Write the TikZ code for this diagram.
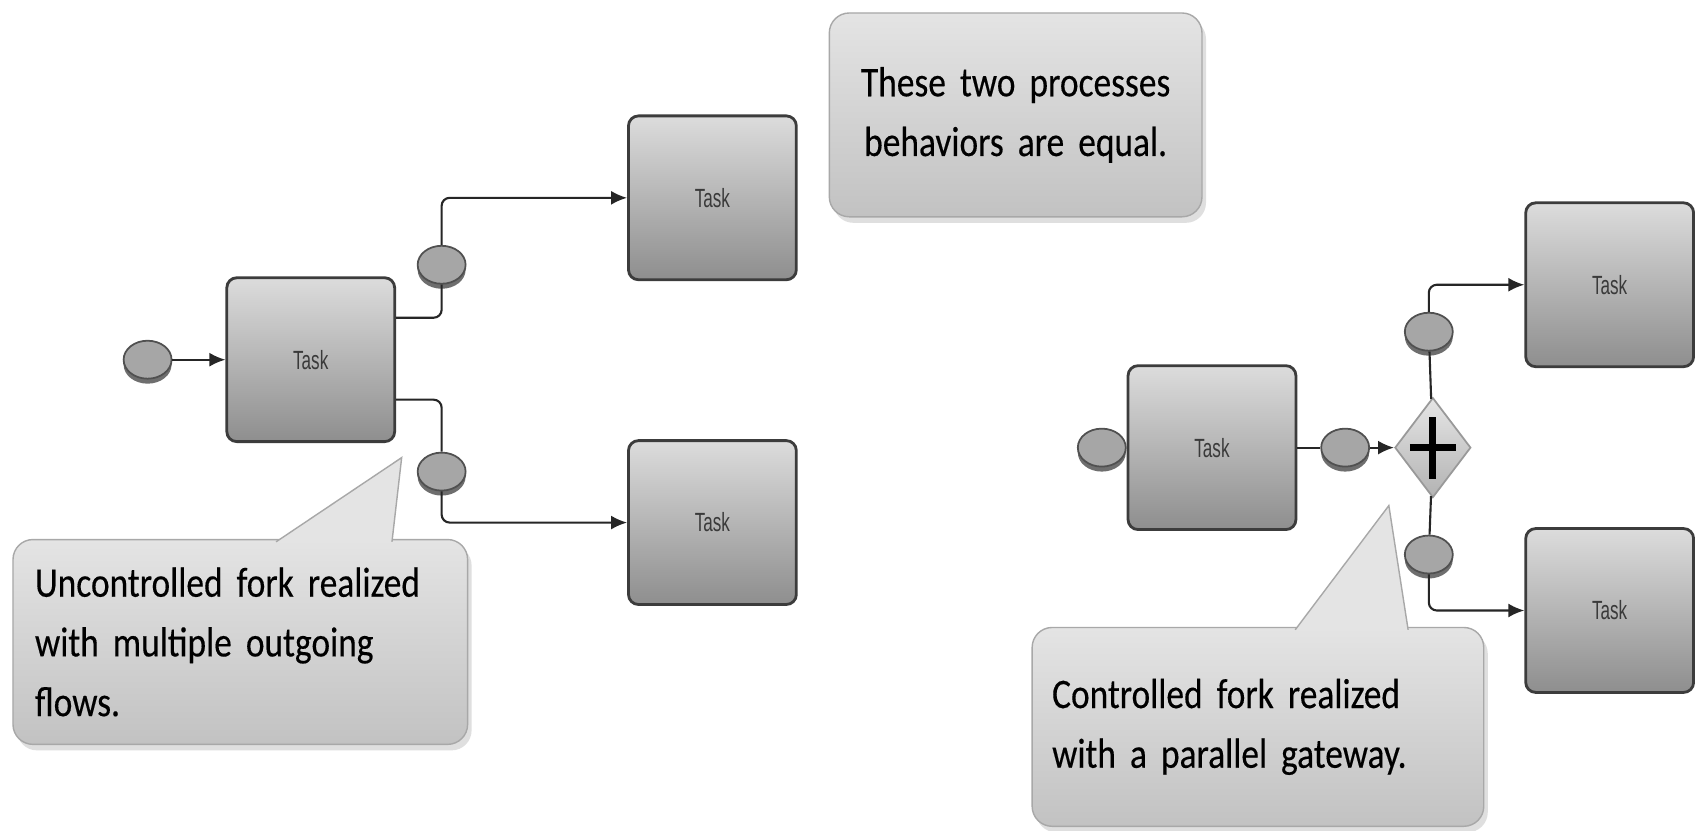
\documentclass[tikz,border=0pt]{standalone}
\usepackage{fontspec}
\usetikzlibrary{arrows.meta,positioning,shapes.geometric,shadows}

\newfontfamily\notefont[FakeStretch=0.84,WordSpace=0.5,FakeBold=0.3]{Carlito}
\newfontfamily\taskfont[FakeStretch=0.65]{Liberation Sans}

\definecolor{tasktop}{HTML}{DCDCDC}
\definecolor{taskbot}{HTML}{8E8E8E}
\definecolor{taskline}{HTML}{3C3C3C}
\definecolor{taskfg}{HTML}{3A3A3A}
\definecolor{notetop}{HTML}{E4E4E4}
\definecolor{notebot}{HTML}{C2C2C2}
\definecolor{noteline}{HTML}{A8A8A8}
\definecolor{evfill}{HTML}{A6A6A6}
\definecolor{evline}{HTML}{505050}
\definecolor{evrim}{HTML}{6E6E6E}

\begin{document}
\begin{tikzpicture}[
        x=0.1mm, y=-0.1mm,
        >={Latex[length=1.6mm,width=1.4mm]},
        task/.style={
            draw=taskline,
            line width=0.8pt,
            rounded corners=1mm,
            top color=tasktop,
            bottom color=taskbot,
            minimum width=16.8mm,
            minimum height=16.4mm,
            text=taskfg,
            font=\taskfont\fontsize{7.5}{9}\selectfont
        },
        evt/.style={
            ellipse,
            draw=evline,
            line width=0.5pt,
            fill=evfill,
            inner sep=0pt,
            minimum width=4.8mm,
            minimum height=3.8mm,
            drop shadow={shadow xshift=0pt, shadow yshift=-0.5mm, fill=evrim, opacity=1}
        },
        gate/.style={
            diamond,
            draw=gray!80,
            line width=0.5pt,
            inner sep=0pt,
            minimum width=7.6mm,
            minimum height=10mm,
            top color=gray!20,
            bottom color=gray!60,
            path picture={
                \draw[black, line width=0.7mm]
                    ([xshift=-2.3mm]path picture bounding box.center) -- ([xshift=2.3mm]path picture bounding box.center)
                    ([yshift=-3.1mm]path picture bounding box.center) -- ([yshift=3.1mm]path picture bounding box.center);
            }
        },
        flow/.style={draw=black!85, line width=0.6pt, rounded corners=0.8mm},
        note/.style={
            draw=noteline,
            line width=0.4pt,
            rounded corners=2mm,
            top color=notetop,
            bottom color=notebot,
            inner sep=0pt,
            drop shadow={shadow xshift=0.4mm, shadow yshift=-0.6mm, opacity=0.25},
            font=\notefont\fontsize{12}{17}\selectfont
        },
        pointer/.style={fill=notetop, draw=noteline, line width=0.4pt}
    ]
    \fill[white] (0,0) rectangle (1695,831);

    % fork with two plain outgoing flows
    \node[task] (taskL) at (311,360) {Task};
    \node[evt, left=5.3mm of taskL] (startL) {};
    \node[task] (taskUp) at (713,198) {Task};
    \node[task] (taskDown) at (713,523) {Task};
    \node[evt] (evUp) at (442,265) {};
    \node[evt] (evDown) at (442,472) {};

    \draw[flow,->] (startL) -- (taskL);
    \draw[flow] ([yshift=4.2mm]taskL.east) -| (evUp);
    \draw[flow,->] (evUp) |- (taskUp);
    \draw[flow] ([yshift=-4mm]taskL.east) -| (evDown);
    \draw[flow,->] (evDown) |- (taskDown);

    % fork through a parallel gateway
    \node[task] (taskR) at (1213,448) {Task};
    \node[evt, left=0pt of taskR] (startR) {};
    \node[evt, right=2.3mm of taskR] (evMid) {};
    \node[gate, right=2.4mm of evMid] (gw) {};
    \node[task] (taskGwUp) at (1611,285) {Task};
    \node[task] (taskGwDown) at (1611,611) {Task};
    \node[evt] (evGwUp) at (1430,332) {};
    \node[evt] (evGwDown) at (1430,555) {};

    \draw[flow] (taskR) -- (evMid);
    \draw[flow,->] (evMid) -- (gw);
    \draw[flow] (gw) -- (evGwUp);
    \draw[flow,->] (evGwUp) |- (taskGwUp);
    \draw[flow] (gw) -- (evGwDown);
    \draw[flow,->] (evGwDown) |- (taskGwDown);

    % annotations
    \node[note, align=center, text width=33.3mm, inner xsep=2mm, minimum height=20.4mm] (noteTop) at (1016.5,115)
        {These two processes\\behaviors are equal.};

    \node[note, align=left, text width=41.1mm, inner xsep=2.2mm, minimum height=20.5mm] (noteL) at (240.5,642.5)
        {Uncontrolled fork realized\\with multiple outgoing\\flows.};
    \coordinate (tipL) at (402,458);
    \path[pointer] ([xshift=26.4mm,yshift=-0.3mm]noteL.north west) -- (tipL) -- ([xshift=38mm,yshift=-0.3mm]noteL.north west);

    \node[note, align=left, text width=41.2mm, inner xsep=2mm, minimum height=19.9mm] (noteR) at (1259,727.5)
        {Controlled fork realized\\with a parallel gateway.};
    \coordinate (tipR) at (1390,506);
    \path[pointer] ([xshift=26.4mm,yshift=-0.3mm]noteR.north west) -- (tipR) -- ([xshift=37.7mm,yshift=-0.3mm]noteR.north west);
\end{tikzpicture}
\end{document}
